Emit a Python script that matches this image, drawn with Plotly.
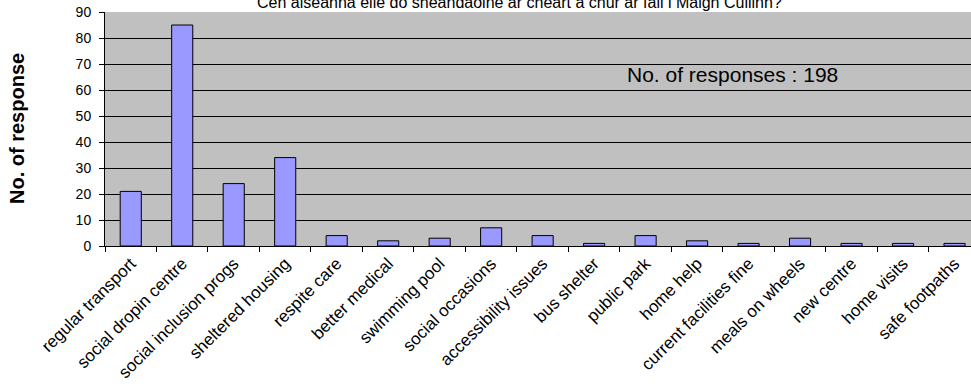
import plotly.graph_objects as go

categories = ["regular transport", "social dropin centre", "social inclusion progs",
              "sheltered housing", "respite care", "better medical", "swimming pool",
              "social occasions", "accessibility issues", "bus shelter", "public park",
              "home help", "current facilities fine", "meals on wheels", "new centre",
              "home visits", "safe footpaths"]
values = [21, 85, 24, 34, 4, 2, 3, 7, 4, 1, 4, 2, 1, 3, 1, 1, 1]
y_ticks = [0, 10, 20, 30, 40, 50, 60, 70, 80, 90]

title_text = "Cen aiseanna eile do sheandaoine ar cheart a chur ar fail i Maigh Cuilinn?"
note_text = "No. of responses : 198"
y_title = "No. of response"

FONT = "Liberation Sans, Arial, sans-serif"

fig = go.Figure()
fig.add_trace(go.Bar(
    x=categories, y=values,
    marker=dict(color="#9999FF", line=dict(color="#000000", width=1)),
    width=0.41,
))

fig.update_layout(
    width=971, height=390,
    margin=dict(l=105, r=0, t=12, b=144),
    paper_bgcolor="white",
    plot_bgcolor="#C0C0C0",
    showlegend=False,
    font=dict(family=FONT, color="black", size=13),
)

fig.update_xaxes(
    type="category",
    range=[-0.5, 16.32],
    tickangle=-45,
    ticks="outside", ticklen=5, tickcolor="black",
    tickson="boundaries",
    showgrid=False,
    showline=True, linecolor="black", linewidth=1,
    tickfont=dict(family=FONT, size=17, color="black"),
)
fig.update_yaxes(
    range=[0, 90],
    tickvals=y_ticks,
    ticks="outside", ticklen=5, tickcolor="black",
    ticklabelstandoff=5,
    showgrid=True, gridcolor="black", gridwidth=1,
    showline=True, linecolor="black", linewidth=1,
    zeroline=False,
    tickfont=dict(family=FONT, size=14, color="black"),
)

fig.add_annotation(
    text="<b>" + y_title + "</b>", xref="paper", yref="paper",
    x=-88 / 866, y=0.5, xanchor="center", yanchor="middle", textangle=-90,
    showarrow=False, font=dict(family=FONT, size=20, color="black"),
)
fig.add_annotation(
    text=title_text, xref="paper", yref="paper", x=(519 - 105) / 866, y=1,
    xanchor="center", yanchor="middle", yshift=10, showarrow=False,
    font=dict(family=FONT, size=16, color="black"),
)
fig.add_annotation(
    text=note_text, xref="paper", yref="y", x=(732 - 105) / 866, y=66,
    xanchor="center", yanchor="middle", showarrow=False,
    font=dict(family=FONT, size=21, color="black"),
)

fig.write_html("out.html", config={"displayModeBar": False},
               post_script="document.body.style.margin='0';")
